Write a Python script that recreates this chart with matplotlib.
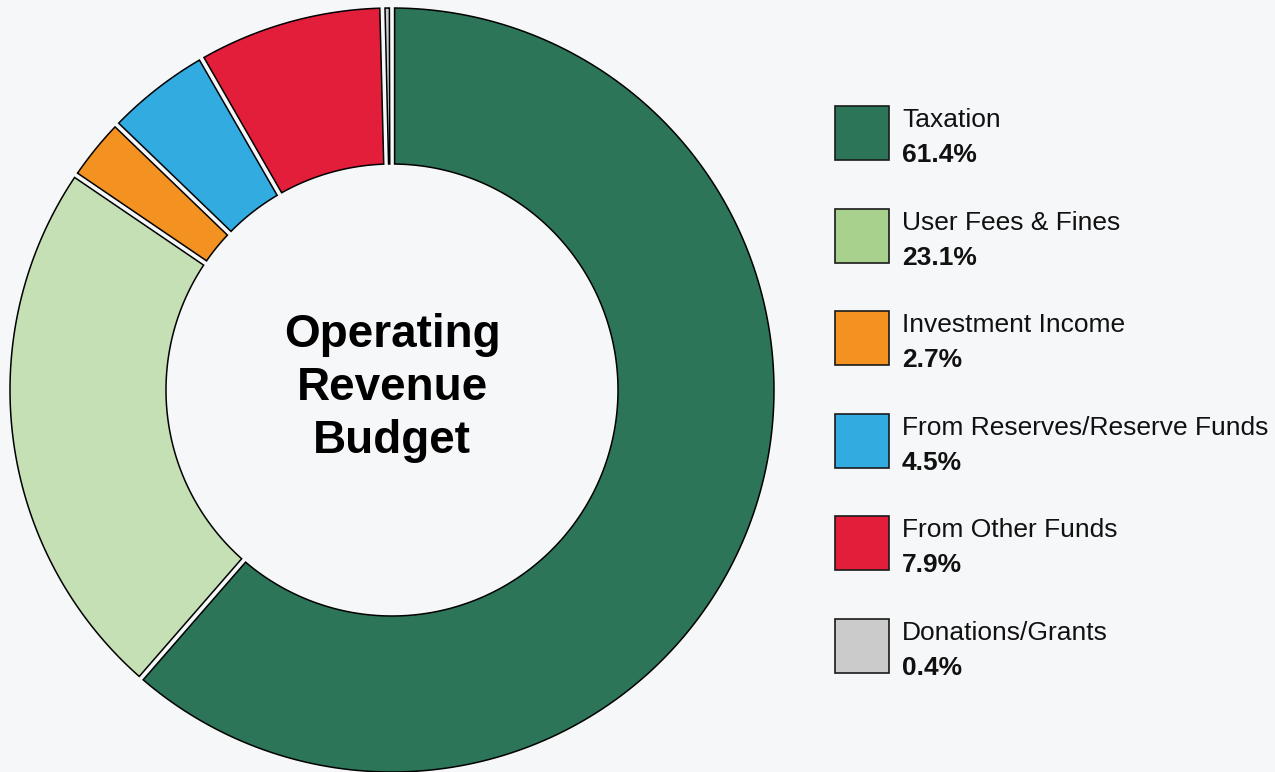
import numpy as np
import matplotlib
matplotlib.use("Agg")
import matplotlib.pyplot as plt
from matplotlib.patches import Polygon, Rectangle

# Revenue sources and their share of the operating budget (%)
categories = ["Taxation", "User Fees & Fines", "Investment Income",
              "From Reserves/Reserve Funds", "From Other Funds", "Donations/Grants"]
shares = [61.4, 23.1, 2.7, 4.5, 7.9, 0.4]
pct_labels = ["61.4%", "23.1%", "2.7%", "4.5%", "7.9%", "0.4%"]

ring_colors = ["#2d7558", "#c5e0b4", "#f39220", "#32abe0", "#e31e3b", "#cbcbcb"]
swatch_colors = ["#2d7558", "#a9d18e", "#f39220", "#32abe0", "#e31e3b", "#cbcbcb"]

title_lines = ["Operating", "Revenue", "Budget"]

BG = "#f6f7f9"
W, H = 1275, 772

fig = plt.figure(figsize=(W / 100, H / 100), dpi=100, facecolor=BG)
ax = fig.add_axes([0, 0, 1, 1])
ax.set_facecolor(BG)


def y(px):
    """Convert a top-down pixel row into the axes' upward y coordinate."""
    return H - px


cx, cy = 392, y(390)
r_out, r_in = 382, 226
gap = 5.2        # constant-width gap between neighbouring segments
edge_lw = 1.1

wedges, _ = ax.pie(shares, startangle=90, counterclock=False,
                   radius=r_out, center=(cx, cy), frame=True,
                   wedgeprops=dict(width=r_out - r_in))
ax.set_xlim(0, W)
ax.set_ylim(0, H)
ax.axis("off")

# Rebuild each ring segment with parallel-sided gaps
h = gap / 2.0
for w, col in zip(wedges, ring_colors):
    a1, a2 = w.theta1, w.theta2
    w.remove()
    o1 = a1 + np.degrees(np.arcsin(h / r_out))
    o2 = a2 - np.degrees(np.arcsin(h / r_out))
    i1 = a1 + np.degrees(np.arcsin(h / r_in))
    i2 = a2 - np.degrees(np.arcsin(h / r_in))
    if i2 - i1 < 0.3:
        mid = (a1 + a2) / 2
        i1, i2 = mid - 0.15, mid + 0.15
    t_out = np.radians(np.linspace(o1, o2, 200))
    t_in = np.radians(np.linspace(i2, i1, 200))
    xs = np.concatenate([cx + r_out * np.cos(t_out), cx + r_in * np.cos(t_in)])
    ys = np.concatenate([cy + r_out * np.sin(t_out), cy + r_in * np.sin(t_in)])
    ax.add_patch(Polygon(np.column_stack([xs, ys]), closed=True,
                         facecolor=col, edgecolor="black",
                         linewidth=edge_lw, joinstyle="miter"))

# Centre title
title_font = ["Liberation Sans", "DejaVu Sans"]
for k, line in enumerate(title_lines):
    ax.text(cx, y(347 + 53 * k), line, ha="center", va="baseline",
            fontsize=33, fontweight="bold", family=title_font, color="black")

# Legend: swatch, category name and bold share
row_top0, row_step = 106, 102.6
sw_x, sw = 835, 54
for k, (name, pct, col) in enumerate(zip(categories, pct_labels, swatch_colors)):
    top = row_top0 + row_step * k
    ax.add_patch(Rectangle((sw_x, y(top + sw)), sw, sw, facecolor=col,
                           edgecolor="#1a1a1a", linewidth=1.2))
    ax.text(902, y(top + 21), name, ha="left", va="baseline",
            fontsize=19, family=title_font, color="#111111")
    ax.text(902, y(top + 56), pct, ha="left", va="baseline",
            fontsize=19, fontweight="bold", family=title_font, color="#111111")

fig.savefig("out.png", dpi=100, facecolor=BG)
